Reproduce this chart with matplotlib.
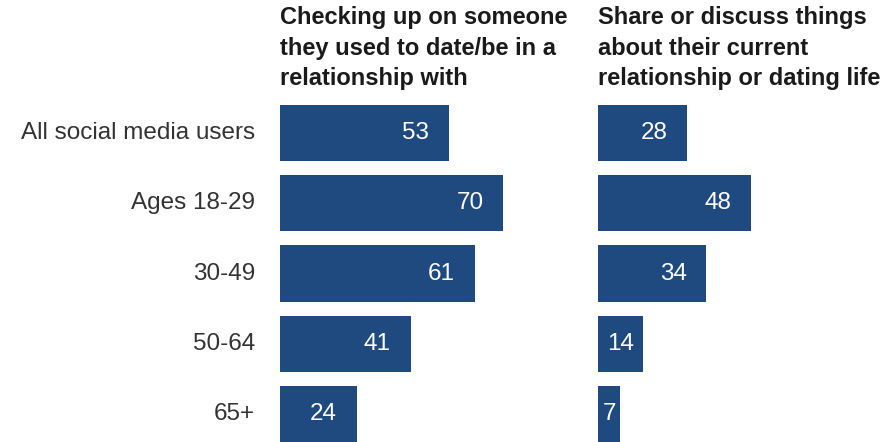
import matplotlib
matplotlib.use("Agg")
import matplotlib.pyplot as plt

# data
groups = ["All social media users", "Ages 18-29", "30-49", "50-64", "65+"]
checking_up = [53, 70, 61, 41, 24]
share_discuss = [28, 48, 34, 14, 7]
titles = ["Checking up on someone\nthey used to date/be in a\nrelationship with",
          "Share or discuss things\nabout their current\nrelationship or dating life"]

bar_color = "#1f4a7f"
W, H = 891, 442
px_per_unit = 3.19

plt.rcParams["font.family"] = ["Liberation Sans", "DejaVu Sans"]
fig = plt.figure(figsize=(W / 100, H / 100), dpi=100)

top, row_h = 98, 70.2
panels = [(280, 310, checking_up), (598, 293, share_discuss)]
for i, (x0, w, vals) in enumerate(panels):
    ax = fig.add_axes([x0 / W, 1 - (top + 5 * row_h) / H, w / W, 5 * row_h / H])
    ax.barh(range(len(vals)), vals, height=0.8, color=bar_color)
    ax.set_xlim(0, w / px_per_unit)
    ax.set_ylim(4.5, -0.5)
    ax.axis("off")
    for y, v in enumerate(vals):
        if v * px_per_unit > 66:
            ax.annotate(str(v), (v, y), xytext=(-24, 0), textcoords="offset points",
                        ha="center", va="center", color="white", fontsize=17.5)
        else:
            ax.text(v / 2, y, str(v), ha="center", va="center", color="white", fontsize=17.5)
    fig.text(x0 / W, 1 - 6 / H, titles[i], ha="left", va="top", fontsize=17,
             fontweight="bold", color="#1a1a1a", linespacing=1.42)
    if i == 0:
        for y, g in enumerate(groups):
            ax.annotate(g, (0, y), xytext=(-18, 0), textcoords="offset points",
                        ha="right", va="center", fontsize=17.5, color="#333333",
                        annotation_clip=False)

fig.savefig("out.png", dpi=100)
